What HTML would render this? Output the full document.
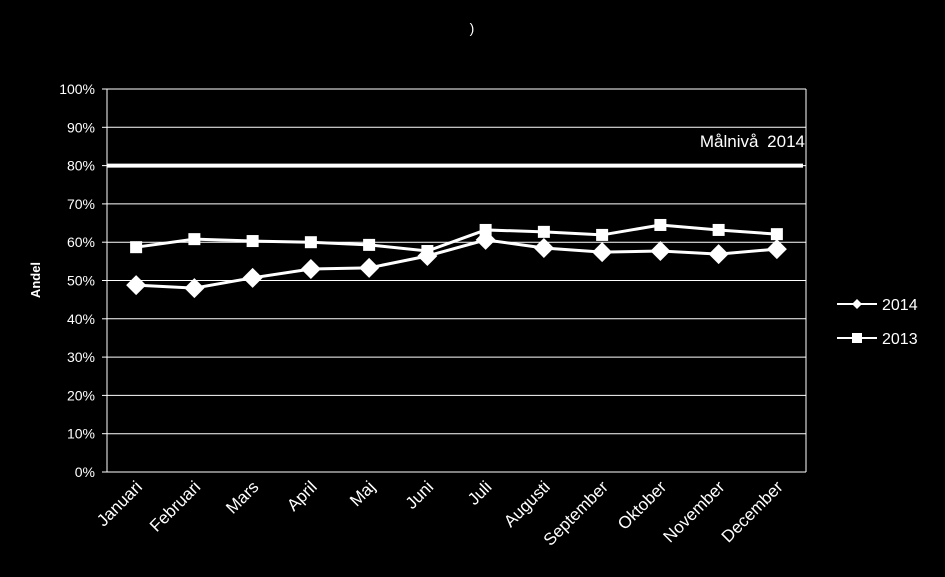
<!DOCTYPE html>
<html><head><meta charset="utf-8"><style>
body{margin:0;background:#000;}
svg{display:block;font-family:"Liberation Sans",sans-serif;}
</style></head><body>
<svg width="945" height="577" viewBox="0 0 945 577">
<text x="472" y="33" fill="#fff" font-size="14" text-anchor="middle">)</text>
<g id="grid"></g><g id="axes"></g><g id="series"></g>
<text transform="translate(40,280) rotate(-90)" fill="#fff" font-size="13" font-weight="bold" text-anchor="middle">Andel</text>
<text x="805" y="147" fill="#fff" font-size="17" word-spacing="4" text-anchor="end">Målnivå 2014</text>
<g>
<g>
<line x1="837" y1="304" x2="877" y2="304" stroke="#fff" stroke-width="2"/>
<polygon points="857,299 862,304 857,309 852,304" fill="#fff"/>
<text x="882" y="310" fill="#fff" font-size="16">2014</text></g>
<g>
<line x1="837" y1="338" x2="877" y2="338" stroke="#fff" stroke-width="2"/>
<rect x="852" y="333" width="10" height="10" fill="#fff"/>
<text x="882" y="344" fill="#fff" font-size="16">2013</text></g>
</g>
</svg>
<script>
const categories=["Januari","Februari","Mars","April","Maj","Juni","Juli","Augusti","September","Oktober","November","December"];
const series2014=[48.8,48.0,50.7,53.0,53.3,56.4,60.6,58.5,57.4,57.7,56.9,58.2];
const series2013=[58.7,60.8,60.3,60.0,59.3,57.7,63.2,62.7,61.9,64.5,63.2,62.1];
const target=[80];
const yTicks=[0,10,20,30,40,50,60,70,80,90,100];
const NS="http://www.w3.org/2000/svg";
const L=107,R=806,T=89,B=472;
const x=i=>L+(R-L)/categories.length*(i+0.5);
const y=v=>B-(v/100)*(B-T);
function mk(t,a,p){const e=document.createElementNS(NS,t);for(const k in a)e.setAttribute(k,a[k]);p.appendChild(e);return e;}
const grid=document.getElementById('grid'),axes=document.getElementById('axes'),ser=document.getElementById('series');
yTicks.forEach(v=>{
 const g=mk('line',{x1:L,x2:R,y1:y(v),y2:y(v),stroke:'#fff','stroke-width':1},grid);
 
 
 const t=mk('text',{x:L-12,y:y(v)+5,fill:'#fff','font-size':14,'text-anchor':'end'},axes);
 t.textContent=v+'%';
 
 
 mk('line',{x1:L-5,x2:L,y1:y(v),y2:y(v),stroke:'#fff'},axes);
});
mk('line',{x1:L,x2:L,y1:T,y2:B,stroke:'#fff','stroke-width':1},axes);
mk('line',{x1:R,x2:R,y1:T,y2:B,stroke:'#fff','stroke-width':1},axes);
categories.forEach((c,i)=>{
 const t=mk('text',{transform:`translate(${x(i)+7},${B+16}) rotate(-45)`,fill:'#fff','font-size':17,'text-anchor':'end'},axes);
 t.textContent=c;
 
 
});
const tl=mk('line',{x1:L,x2:R-3,y1:y(target[0]),y2:y(target[0]),stroke:'#fff','stroke-width':4},ser);


function line(vals,name,marker){
 const p=mk('polyline',{points:vals.map((v,i)=>x(i)+','+y(v)).join(' '),fill:'none',stroke:'#fff','stroke-width':3},ser);
 
 
 vals.forEach((v,i)=>{
  let m;
  if(marker==='d'){const cx=x(i),cy=y(v);m=mk('polygon',{points:`${cx},${cy-10} ${cx+10},${cy} ${cx},${cy+10} ${cx-10},${cy}`,fill:'#fff'},ser);}
  else m=mk('rect',{x:x(i)-6,y:y(v)-6,width:12,height:12,fill:'#fff'},ser);
  
  
 });
}
line(series2013,'2013','s');
line(series2014,'2014','d');
</script>
</body></html>
